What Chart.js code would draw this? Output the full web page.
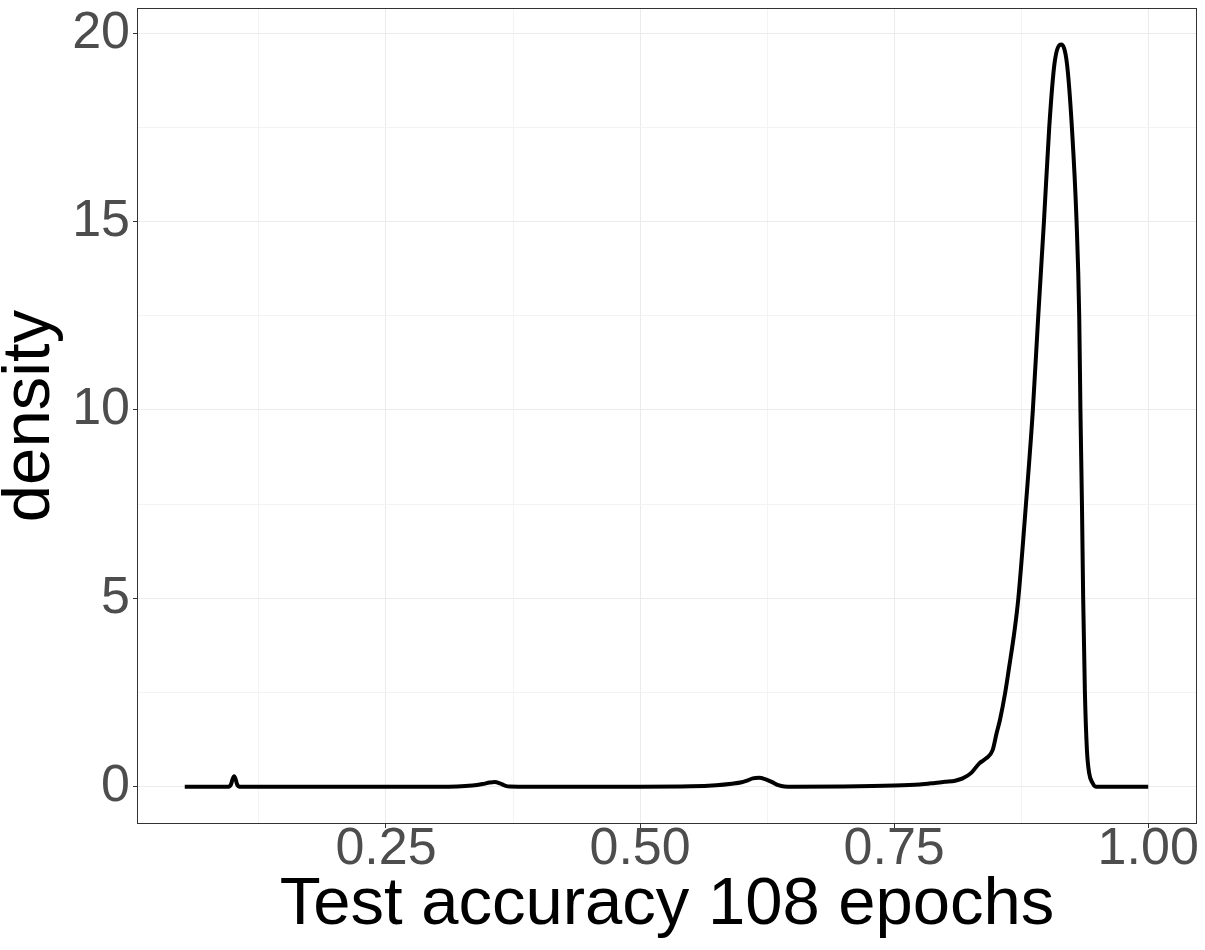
<!DOCTYPE html>
<html lang="en">
  <head>
    <meta charset="UTF-8" />
    <title>Test accuracy density</title>
    <style>
      * {
        margin: 0;
        padding: 0;
        box-sizing: border-box;
      }

      body {
        width: 1205px;
        height: 950px;
        background: #ffffff;
        overflow: hidden;
      }
    </style>
  </head>
  <body>
    <canvas id="myChart" width="1205" height="950"></canvas>
    <script src="https://cdn.jsdelivr.net/npm/chart.js"></script>
    <script>
      // density curve
      const accuracy = [
        0.052, 0.095, 0.0975, 0.099, 0.1006, 0.102, 0.1035, 0.106,
        0.3, 0.32, 0.335, 0.345, 0.352, 0.357, 0.362, 0.367, 0.372, 0.38,
        0.5, 0.55, 0.575, 0.59, 0.6, 0.606, 0.611, 0.617, 0.623, 0.63, 0.636,
        0.642, 0.65, 0.7, 0.75, 0.775, 0.79, 0.8, 0.81, 0.8174, 0.8256,
        0.8338, 0.8404, 0.8469, 0.8508, 0.8541, 0.8593, 0.8633, 0.8682,
        0.8722, 0.8797, 0.8865, 0.8918, 0.8974, 0.9026, 0.9078, 0.9144,
        0.92, 0.9249, 0.9295, 0.9321, 0.9333, 0.9348, 0.936, 0.9377, 0.9397,
        0.9419, 0.9452, 0.9485, 1.0,
      ];
      const density = [
        0, 0, 0.06, 0.2, 0.28, 0.2, 0.06, 0,
        0, 0.005, 0.03, 0.07, 0.11, 0.125, 0.09, 0.03, 0.003, 0,
        0, 0.01, 0.04, 0.08, 0.12, 0.17, 0.22, 0.235, 0.2, 0.12, 0.04,
        0.005, 0, 0.005, 0.03, 0.06, 0.1, 0.13, 0.16, 0.22, 0.36,
        0.62, 0.75, 0.97, 1.42, 1.77, 2.5, 3.2, 4.09,
        5, 7.5, 10, 12.5, 15, 17.5, 19.2, 19.7,
        19.2, 17.5, 15, 12.5, 10, 7.5, 5, 2.5, 0.97,
        0.36, 0.1, 0, 0,
      ];

      // tick positions (major ones get labels, minor ones only grid lines)
      const xTicks = [0.125, 0.25, 0.375, 0.5, 0.625, 0.75, 0.875, 1.0];
      const xLabels = ["", "0.25", "", "0.50", "", "0.75", "", "1.00"];
      const yTicks = [0, 2.5, 5, 7.5, 10, 12.5, 15, 17.5, 20];
      const yLabels = ["0", "", "5", "", "10", "", "15", "", "20"];

      const points = accuracy.map((a, i) => ({ x: a, y: density[i] }));

      // panel border like theme_bw
      const panelBorder = {
        id: "panelBorder",
        afterDraw(chart) {
          const c = chart.ctx;
          const a = chart.chartArea;
          c.save();
          c.strokeStyle = "#333333";
          c.lineWidth = 1;
          c.strokeRect(a.left + 0.5, a.top + 0.5, a.right - a.left - 1, a.bottom - a.top - 1);
          c.restore();
        },
      };

      const isMajorX = (ctx) => xLabels[xTicks.indexOf(ctx.tick.value)] !== "";
      const isMajorY = (ctx) => yLabels[yTicks.indexOf(ctx.tick.value)] !== "";

      var ctx = document.getElementById("myChart").getContext("2d");
      var miGrafico = new Chart(ctx, {
        type: "line",
        data: {
          datasets: [
            {
              data: points,
              borderColor: "#000000",
              borderWidth: 4,
              pointRadius: 0,
              fill: false,
              cubicInterpolationMode: "monotone",
              borderJoinStyle: "round",
            },
          ],
        },
        plugins: [panelBorder],
        options: {
          responsive: false,
          animation: false,
          devicePixelRatio: 1,
          layout: {
            padding: { left: 0, right: 8, top: 8, bottom: 0 },
          },
          plugins: {
            legend: { display: false },
            tooltip: { enabled: false },
          },
          scales: {
            x: {
              type: "linear",
              min: 0.005,
              max: 1.048,
              afterBuildTicks: (scale) => {
                scale.ticks = xTicks.map((v) => ({ value: v }));
              },
              afterFit: (scale) => {
                scale.height = 126;
              },
              ticks: {
                autoSkip: false,
                maxRotation: 0,
                padding: 0,
                color: "#4D4D4D",
                font: { family: "Liberation Sans", size: 52, lineHeight: 0.85 },
                callback: (value, index) => xLabels[index],
              },
              grid: {
                color: (c) => (isMajorX(c) ? "#EBEBEB" : "#F3F3F3"),
                lineWidth: 1,
                tickLength: 4,
                tickColor: (c) => (isMajorX(c) ? "#333333" : "rgba(0,0,0,0)"),
              },
              border: { display: false },
              title: {
                display: true,
                text: "Test accuracy 108 epochs",
                color: "#000000",
                font: { family: "Liberation Sans", size: 67, lineHeight: 1.2 },
                padding: { top: 0, bottom: 4 },
              },
            },
            y: {
              type: "linear",
              min: -0.99,
              max: 20.67,
              afterBuildTicks: (scale) => {
                scale.ticks = yTicks.map((v) => ({ value: v }));
              },
              afterFit: (scale) => {
                scale.width = 137;
              },
              ticks: {
                autoSkip: false,
                padding: 3,
                color: "#4D4D4D",
                // small line height keeps the top label from pushing the panel down
                font: { family: "Liberation Sans", size: 52, lineHeight: 0.1 },
                callback: (value, index) => yLabels[index],
              },
              grid: {
                color: (c) => (isMajorY(c) ? "#EBEBEB" : "#F3F3F3"),
                lineWidth: 1,
                tickLength: 4,
                tickColor: (c) => (isMajorY(c) ? "#333333" : "rgba(0,0,0,0)"),
              },
              border: { display: false },
              title: {
                display: true,
                text: "density",
                color: "#000000",
                font: { family: "Liberation Sans", size: 67, lineHeight: 0.9 },
                padding: { top: 0, bottom: 0 },
              },
            },
          },
        },
      });
    </script>
  </body>
</html>
